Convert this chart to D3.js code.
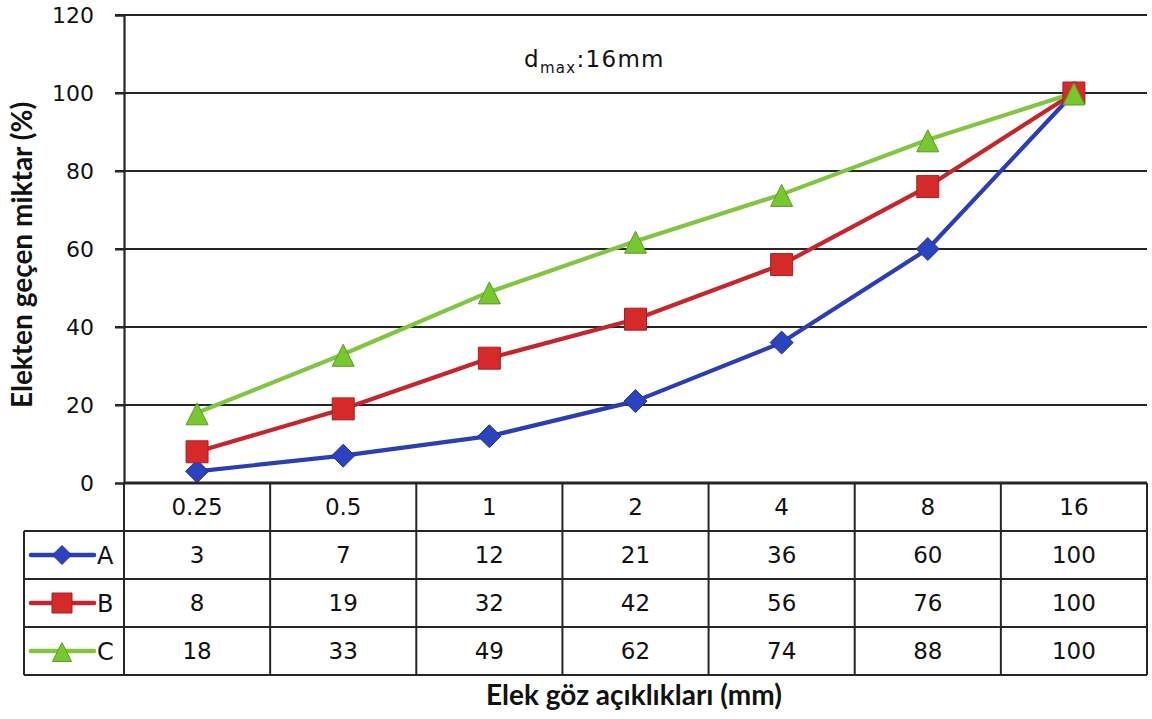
<!DOCTYPE html>
<html><head><meta charset="utf-8">
<script src="https://cdn.jsdelivr.net/npm/d3@7"></script>
<style>body{margin:0;background:#fff}svg{display:block}</style>
</head><body>
<script>
const sieves = ["0.25","0.5","1","2","4","8","16"];
const seriesA = [3,7,12,21,36,60,100];
const seriesB = [8,19,32,42,56,76,100];
const seriesC = [18,33,49,62,74,88,100];
const seriesNames = ["A","B","C"];
const yTicks = [0,20,40,60,80,100,120];

(function(){
const W=1152,H=719;
const pLeft=124,pRight=1147,pTop=15,pBottom=483;
const rowH=48;
const numFont="'DejaVu Sans',sans-serif";
const titleFont="Lato,'Open Sans',sans-serif";
const svg=d3.select("body").append("svg").attr("width",W).attr("height",H)
 .style("font-family",numFont);

const x=d3.scaleBand().domain(sieves).range([pLeft,pRight]);
const y=d3.scaleLinear().domain([0,120]).range([pBottom,pTop]);
const cx=i=>x(sieves[i])+x.bandwidth()/2;

const gridCol="#262626";
svg.append("g").selectAll("line").data(yTicks.filter(d=>d>0)).join("line")
 .attr("x1",pLeft-9).attr("x2",pRight).attr("y1",d=>y(d)).attr("y2",d=>y(d))
 .attr("stroke",gridCol).attr("stroke-width",2);
const ya=svg.append("g").attr("transform",`translate(${pLeft},0)`)
 .call(d3.axisLeft(y).tickValues(yTicks).tickSize(9).tickPadding(21));
ya.select(".domain").attr("stroke",gridCol).attr("stroke-width",2.2);
ya.selectAll(".tick line").attr("stroke",gridCol).attr("stroke-width",2);
ya.selectAll(".tick text").style("font-size","22px").style("font-family",numFont).attr("fill","#111").attr("dy","0.36em");

const diamond={draw(c,s){c.moveTo(0,-s);c.lineTo(s,0);c.lineTo(0,s);c.lineTo(-s,0);c.closePath();}};
const square={draw(c,s){c.rect(-s,-s,2*s,2*s);}};
const triangle={draw(c,s){c.moveTo(0,-s);c.lineTo(s,s);c.lineTo(-s,s);c.closePath();}};

const series=[
 {name:seriesNames[0],vals:seriesA,color:"#2A3EB6",fill:"#2C43C0",type:diamond,sz:11.5,lsz:9.5,dy:0},
 {name:seriesNames[1],vals:seriesB,color:"#C5252B",fill:"#D42A2A",type:square,sz:11,lsz:10,dy:0},
 {name:seriesNames[2],vals:seriesC,color:"#80C640",fill:"#76C730",type:triangle,sz:11,lsz:9.5,dy:1}
];
const line=d3.line().x((d,i)=>cx(i)).y(d=>y(d));
series.forEach(s=>{
 svg.append("path").datum(s.vals).attr("d",line).attr("fill","none")
  .attr("stroke",s.color).attr("stroke-width",4.2).attr("stroke-linejoin","round");
});
series.forEach(s=>{
 svg.append("g").selectAll("path").data(s.vals).join("path")
  .attr("d",d3.symbol(s.type,s.sz))
  .attr("transform",(d,i)=>`translate(${cx(i)},${y(d)+s.dy})`)
  .attr("fill",s.fill).attr("stroke",d3.color(s.fill).darker(0.7)).attr("stroke-width",1);
});

svg.append("line").attr("x1",pLeft).attr("x2",pRight).attr("y1",pBottom).attr("y2",pBottom)
 .attr("stroke",gridCol).attr("stroke-width",3.2);

const tbl=svg.append("g");
const legL=24;
const tBottom=pBottom+rowH*4;
for(let r=1;r<=4;r++){
 tbl.append("line").attr("x1",legL).attr("x2",pRight).attr("y1",pBottom+rowH*r).attr("y2",pBottom+rowH*r)
  .attr("stroke",gridCol).attr("stroke-width",2);
}
sieves.forEach(s=>{
 tbl.append("line").attr("x1",x(s)).attr("x2",x(s)).attr("y1",pBottom).attr("y2",tBottom)
  .attr("stroke",gridCol).attr("stroke-width",2);
});
tbl.append("line").attr("x1",pRight).attr("x2",pRight).attr("y1",pBottom).attr("y2",tBottom)
 .attr("stroke",gridCol).attr("stroke-width",2);
tbl.append("line").attr("x1",legL).attr("x2",legL).attr("y1",pBottom+rowH).attr("y2",tBottom)
 .attr("stroke",gridCol).attr("stroke-width",2);
tbl.append("g").selectAll("text").data(sieves).join("text")
 .attr("x",d=>x(d)+x.bandwidth()/2).attr("y",pBottom+rowH/2+8)
 .attr("text-anchor","middle").style("font-size","23px").attr("fill","#111").text(d=>d);
series.forEach((s,ri)=>{
 const cy=pBottom+rowH*(ri+1)+rowH/2;
 tbl.append("g").selectAll("text").data(s.vals).join("text")
  .attr("x",(d,i)=>cx(i)).attr("y",cy+8)
  .attr("text-anchor","middle").style("font-size","23px").attr("fill","#111").text(d=>d);
 tbl.append("line").attr("x1",31).attr("x2",94).attr("y1",cy).attr("y2",cy)
  .attr("stroke",s.color).attr("stroke-width",4.5).attr("stroke-linecap","round");
 tbl.append("path").attr("d",d3.symbol(s.type,s.lsz)).attr("transform",`translate(62,${cy+s.dy})`)
  .attr("fill",s.fill).attr("stroke",d3.color(s.fill).darker(0.7)).attr("stroke-width",1);
 tbl.append("text").attr("x",97).attr("y",cy+9).style("font-size","24px").attr("fill","#111").text(s.name);
});

svg.append("text").attr("x",634).attr("y",705).attr("text-anchor","middle")
 .style("font-family",titleFont).style("font-size","28px").style("font-weight","bold")
 .attr("fill","#111").text("Elek göz açıklıkları (mm)");
svg.append("text").attr("transform","translate(32,255) rotate(-90)").attr("text-anchor","middle")
 .style("font-family",titleFont).style("font-size","28px").style("font-weight","bold")
 .attr("fill","#111").text("Elekten geçen miktar (%)");
const ann=svg.append("text").attr("x",524).attr("y",67).style("font-size","23px")
 .style("letter-spacing","1.3px").attr("fill","#111");
ann.append("tspan").text("d");
ann.append("tspan").style("font-size","15px").attr("dy",6).text("max");
ann.append("tspan").attr("dy",-6).text(":16mm");
})();
</script>
</body></html>
